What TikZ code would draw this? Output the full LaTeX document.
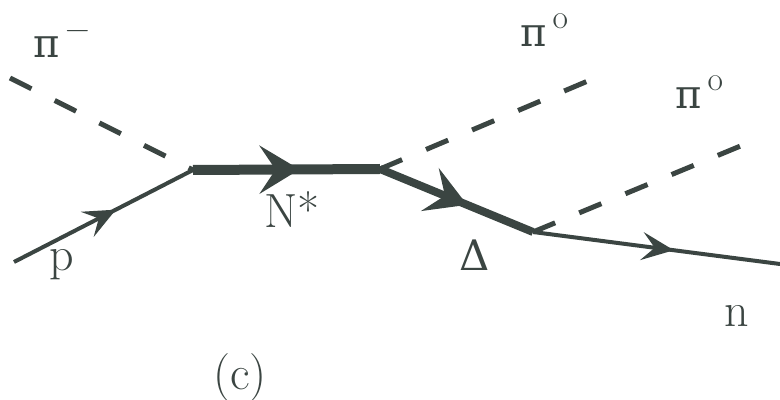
\documentclass[tikz,border=0pt]{standalone}
\usepackage{fontspec}
\newfontfamily\fdgreek{DejaVu Serif}
\usetikzlibrary{arrows.meta,decorations.markings}
\definecolor{fdink}{HTML}{3B4542}
\tikzset{
  fdline/.style={draw=fdink, line width=2pt},
  fdpion/.style={draw=fdink, line width=2.5pt, dash pattern=on 12pt off 13pt},
  fdheavy/.style={draw=fdink, line width=5pt},
  fdmid/.style={draw=fdink, line width=4pt},
  fdflow/.style 2 args={postaction={decorate}, decoration={markings,
      mark=at position 0.57 with {\arrow{Stealth[length=#1, width=#2, inset=0.4*#1]}}}},
  fdlabel/.style={font=\fontsize{24}{27}\selectfont, text=fdink, inner sep=0pt},
}
\newcommand{\fdpi}{{\fdgreek\fontsize{20}{24}\selectfont π}}

\begin{document}
\begin{tikzpicture}[x=0.5pt,y=-0.5pt]
  \useasboundingbox (0,0) rectangle (780,400);
  % vertices and free ends
  \coordinate (A) at (193,170);
  \coordinate (B) at (380,169);
  \coordinate (C) at (533,232);
  \coordinate (pin) at (14,262);
  \coordinate (pimin) at (10,78);
  \coordinate (piup) at (602,75);
  \coordinate (pilow) at (755,140);
  \coordinate (nout) at (780,264);
  % lines
  \draw[fdpion] (pimin) -- (A);
  \draw[fdpion] (B) -- (piup);
  \draw[fdpion] (C) -- (pilow);
  \draw[fdline, fdflow={16pt}{14pt}] (pin) -- (A);
  \draw[fdheavy, fdflow={20pt}{24pt}] (A) -- (B);
  \draw[fdmid, fdflow={20pt}{23pt}] (B) -- (C);
  \draw[fdline, fdflow={16pt}{14pt}] (C) -- (nout);
  % labels
  \node[fdlabel] (lpimin) at (62,44) {\fdpi\textsuperscript{\,−}};
  \node[fdlabel] (lpiup) at (545,30) {\fdpi\textsuperscript{\,o}};
  \node[fdlabel] (lpilow) at (700,92) {\fdpi\textsuperscript{\,o}};
  \node[fdlabel] (lp) at (62,265) {p};
  \node[fdlabel] (lN) at (292,210) {N*};
  \node[fdlabel] (lD) at (475,255) {{\fdgreek\fontsize{21}{24}\selectfont Δ}};
  \node[fdlabel] (ln) at (737,316) {n};
  \node[fdlabel] (lc) at (240,378) {(c)};
\end{tikzpicture}
\end{document}
